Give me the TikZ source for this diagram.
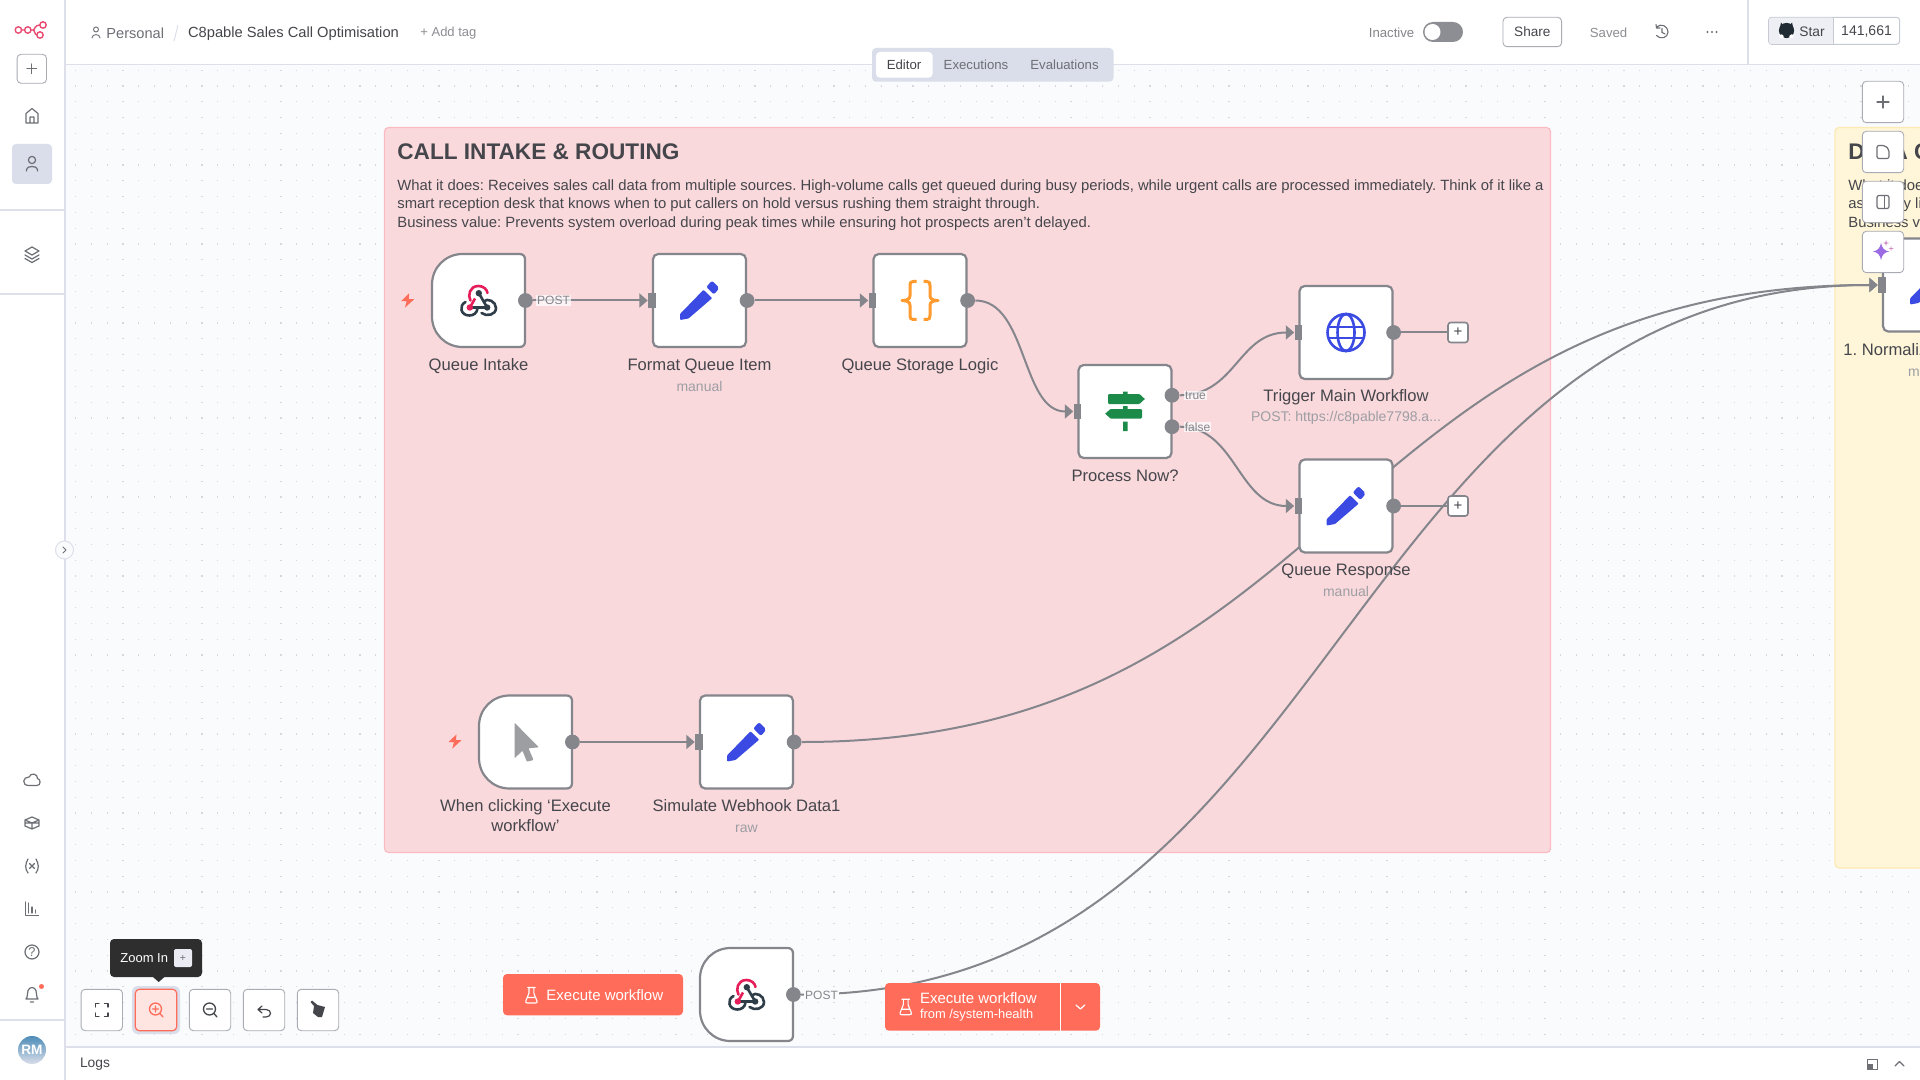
\documentclass[tikz,border=0pt]{standalone}
\usepackage{fontspec}
\setmainfont{Liberation Sans}
\usetikzlibrary{arrows.meta,calc}
\definecolor{canvas}{HTML}{FAFBFD}
\definecolor{griddot}{HTML}{D6D8DF}
\definecolor{rule}{HTML}{DDE0EA}
\definecolor{edgec}{HTML}{84868C}
\definecolor{ink}{HTML}{45464B}
\definecolor{subink}{HTML}{9C9EA3}
\definecolor{uiink}{HTML}{6D6F75}
\definecolor{btnline}{HTML}{A9ACB4}
\definecolor{coral}{HTML}{FF6D5A}
\definecolor{pinkbg}{HTML}{FAD9DD}
\definecolor{pinkln}{HTML}{FBBBC2}
\definecolor{yellbg}{HTML}{FFF5D8}
\definecolor{yellln}{HTML}{FCE9B4}
\definecolor{pencilc}{HTML}{3B4AE3}
\definecolor{greenc}{HTML}{1C8B4A}
\definecolor{orangec}{HTML}{FF9A2E}
\definecolor{hookpink}{HTML}{E51E5A}
\definecolor{hookdark}{HTML}{2F3D49}
\definecolor{logoc}{HTML}{EA4B71}
\definecolor{tabbg}{HTML}{DADEEA}
\definecolor{purplec}{HTML}{9A6BE3}
\pgfdeclarelayer{bgl}\pgfdeclarelayer{edgel}\pgfdeclarelayer{uil}
\pgfsetlayers{bgl,edgel,main,uil}
\tikzset{
  card/.style={draw=edgec,line width=1.1pt,fill=white,rounded corners=2.6pt,minimum width=46.5pt,minimum height=46.5pt,inner sep=0pt},
  ghostcard/.style={minimum width=46.5pt,minimum height=46.5pt,inner sep=0pt},
  trigborder/.style={draw=edgec,line width=1.1pt,fill=white,line join=round},
  outdot/.style={circle,fill=edgec,minimum size=7.4pt,inner sep=0pt},
  inport/.style={rectangle,fill=edgec,minimum width=3.8pt,minimum height=7.8pt,inner sep=0pt},
  wire/.style={draw=edgec,line width=1pt},
  wirearrow/.style={wire,-{Triangle[length=4.2pt,width=7pt]}},
  nodelabel/.style={font=\fontsize{8.3}{9.6}\selectfont,text=ink,align=center,inner sep=0pt},
  sublabel/.style={font=\fontsize{7}{8}\selectfont,text=subink,inner sep=0pt},
  portlabel/.style={font=\fontsize{6}{7}\selectfont,text=edgec,inner sep=.5pt,fill=white,fill opacity=.7,text opacity=1},
  plusbox/.style={draw=edgec,line width=.8pt,fill=white,rounded corners=1.4pt,minimum size=10pt,inner sep=0pt},
  uibtn/.style={draw=btnline,line width=.45pt,fill=white,rounded corners=2pt,minimum width=20.7pt,minimum height=20.7pt,inner sep=0pt},
  uiicon/.style={draw=uiink,line width=.6pt,line cap=round,line join=round,fill=none},
  stickytitle/.style={font=\fontsize{11.3}{14}\selectfont\bfseries,text=ink,anchor=west,inner sep=0pt},
  stickybody/.style={font=\fontsize{7.42}{9.25}\selectfont,text=ink,align=left,anchor=north west,inner sep=0pt},
}
\newcommand{\hookicon}[1]{\begin{scope}[shift={(#1)}]
  \draw[hookpink,line width=1.3pt,line cap=round] (-8,0) .. controls (-11,-5) and (-9,-14.5) .. (0,-14.5) .. controls (5,-14.5) and (8.5,-11) .. (9,-7.5);
  \draw[hookpink,line width=1.3pt] (-8.6,7) -- (-3.5,-2);
  \draw[hookdark,line width=1.3pt] (0.3,-7.3) -- (8.7,7) -- (-8,7);
  \draw[hookdark,line width=1.3pt,line cap=round] (-13,1.5) .. controls (-20,5) and (-18,15) .. (-9,15) .. controls (-5,15) and (-1.5,12.5) .. (-1,8);
  \draw[hookdark,line width=1.3pt,line cap=round] (3,12.5) .. controls (8,16.5) and (17.5,14.5) .. (17.5,7.5) .. controls (17.5,1) and (9,-3) .. (5,1);
  \fill[hookdark] (0.3,-7.3) circle[radius=3.2] (8.7,7) circle[radius=3.2];
  \fill[hookpink] (-8.7,7) circle[radius=3.2];
\end{scope}}
\newcommand{\penicon}[1]{\begin{scope}[shift={(#1)}]
  \fill[pencilc,rounded corners=.4pt] (-19.3,19.5) -- (-19.5,13.5) -- (4,-10.7) -- (12.6,-2.3) -- (-11,18) -- cycle;
  \fill[pencilc,rounded corners=1pt] (6.7,-13.5) -- (12.5,-19.8) -- (19.8,-12.5) -- (14.5,-6) -- cycle;
\end{scope}}
\newcommand{\bolticon}[1]{\begin{scope}[shift={(#1)}]
  \fill[coral] (1.5,-7.2) -- (-6.5,.6) -- (-1,.8) -- (-2.8,7.2) -- (6.5,-1.3) -- (1,-1.3) -- cycle;
\end{scope}}
\newcommand{\flaskicon}[1]{\begin{scope}[shift={(#1)}]
  \draw[white,line width=.55pt,line join=round,line cap=round] (-3.8,-7.5) -- (3.8,-7.5) (-2.4,-7.5) -- (-2.4,-2) -- (-5.6,6) .. controls (-6,7.5) and (-5.5,8) .. (-4,8) -- (4,8) .. controls (5.5,8) and (6,7.5) .. (5.6,6) -- (2.4,-2) -- (2.4,-7.5) (-4,2.5) -- (4,2.5);
\end{scope}}
\newcommand{\trigshape}[1]{\begin{scope}[shift={(#1)}]
  \draw[trigborder] (-16,-46.5) -- (41,-46.5) .. controls (44.5,-46.5) and (46.5,-44.5) .. (46.5,-41) -- (46.5,41) .. controls (46.5,44.5) and (44.5,46.5) .. (41,46.5) -- (-16,46.5) .. controls (-33,46.5) and (-46.5,33) .. (-46.5,16) -- (-46.5,-16) .. controls (-46.5,-33) and (-33,-46.5) .. (-16,-46.5) -- cycle;
\end{scope}}
\begin{document}
\frenchspacing
\begin{tikzpicture}[x=.5pt,y=-.5pt]
\useasboundingbox (0,0) rectangle (1920,1080);
\begin{pgfonlayer}{bgl}
  \fill[white] (0,0) rectangle (1920,1080);
  \fill[canvas] (65,65) rectangle (1920,1047);
  \foreach \j in {0,...,61}{
    \draw[griddot,line width=.6pt,dash pattern=on .6pt off 7.3pt] (75,{70.3+15.8*\j}) -- (1920,{70.3+15.8*\j});}
  \draw[pinkln,fill=pinkbg,line width=.6pt,rounded corners=2pt] (384.5,127.5) rectangle (1550.5,852.5);
  \draw[yellln,fill=yellbg,line width=.6pt,rounded corners=2pt] (1835,127.5) rectangle (1960,868);
\end{pgfonlayer}

% sticky text
\node[stickytitle] (t1) at (397,152) {CALL INTAKE \& ROUTING};
\node[stickybody] (b1) at (397,179) {What it does: Receives sales call data from multiple sources. High-volume calls get queued during busy periods, while urgent calls are processed immediately. Think of it like a\\smart reception desk that knows when to put callers on hold versus rushing them straight through.\\Business value: Prevents system overload during peak times while ensuring hot prospects aren’t delayed.};
\node[stickytitle] (t2) at (1848,152) {DATA C};
\node[stickybody] (b2) at (1848,179) {What it does\\assembly li\\Business va};

% workflow cards
\node[ghostcard] (qi) at (478.5,300.5) {};
\node[card] (fq) at (699.5,300.5) {};
\node[card] (qs) at (920,300.5) {};
\node[card] (pn) at (1125,411.5) {};
\node[card] (tm) at (1346,332.5) {};
\node[card] (qr) at (1346,506) {};
\node[ghostcard] (ck) at (525.5,742) {};
\node[card] (sw) at (746.5,742) {};
\node[ghostcard] (bh) at (746.5,994.5) {};
\node[card] (nm) at (1929.5,285) {};
\trigshape{qi.center}
\trigshape{ck.center}
\trigshape{bh.center}
% ports
\node[outdot] (qio) at (qi.east) {};
\node[outdot] (fqo) at (fq.east) {};
\node[outdot] (qso) at (qs.east) {};
\node[outdot] (pnt) at (1172,395.3) {};
\node[outdot] (pnf) at (1172,426.7) {};
\node[outdot] (tmo) at (tm.east) {};
\node[outdot] (qro) at (qr.east) {};
\node[outdot] (cko) at (ck.east) {};
\node[outdot] (swo) at (sw.east) {};
\node[outdot] (bho) at (bh.east) {};
\node[inport] (fqi) at (fq.west) {};
\node[inport] (qsi) at (qs.west) {};
\node[inport] (pni) at (pn.west) {};
\node[inport] (tmi) at (tm.west) {};
\node[inport] (qri) at (qr.west) {};
\node[inport] (swi) at (sw.west) {};
\node[inport] (nmi) at (nm.west) {};
\node[plusbox,font=\fontsize{7.5}{8}\selectfont,text=ink] (p1) at (1458,332.5) {+};
\node[plusbox,font=\fontsize{7.5}{8}\selectfont,text=ink] (p2) at (1458,506) {+};

% connectors
\begin{pgfonlayer}{edgel}
  \draw[wirearrow] (qio.east) -- (fqi.west);
  \draw[wirearrow] (fqo.east) -- (qsi.west);
  \draw[wirearrow] (qso.east) .. controls +(52,0) and +(-52,0) .. (pni.west);
  \draw[wirearrow] (pnt.east) .. controls +(56,0) and +(-56,0) .. (tmi.west);
  \draw[wirearrow] (pnf.east) .. controls +(56,0) and +(-56,0) .. (qri.west);
  \draw[wire] (tmo.east) -- (p1.west);
  \draw[wire] (qro.east) -- (p2.west);
  \draw[wirearrow] (cko.east) -- (swi.west);
  \draw[wirearrow] (swo.east) .. controls +(540,0) and +(-540,0) .. (nmi.west);
  \draw[wirearrow] (bho.east) .. controls +(540,0) and +(-540,0) .. (nmi.west);
\end{pgfonlayer}

% port labels
\node[portlabel] (l1) at (553.5,300.5) {POST};
\node[portlabel] (l2) at (1195.5,395.5) {true};
\node[portlabel] (l3) at (1197.5,427) {false};
\node[portlabel,fill=canvas,fill opacity=1] (l4) at (821.5,995) {POST};

% labels
\node[nodelabel] (qil) at (478.5,366) {Queue Intake};
\node[nodelabel] (fql) at (699.5,366) {Format Queue Item};
\node[sublabel] (fqs) at (699.5,386.7) {manual};
\node[nodelabel] (qsl) at (920,366) {Queue Storage Logic};
\node[nodelabel] (pnl) at (1125,475.5) {Process Now?};
\node[nodelabel] (tml) at (1346,397) {Trigger Main Workflow};
\node[sublabel] (tms) at (1346,417.7) {POST: https://c8pable7798.a...};
\node[nodelabel] (qrl) at (1346,571.3) {Queue Response};
\node[sublabel] (qrs) at (1346,591.7) {manual};
\node[nodelabel] (ckl) at (525.5,815.5) {When clicking ‘Execute\\workflow’};
\node[nodelabel] (swl) at (746.5,806) {Simulate Webhook Data1};
\node[sublabel] (sws) at (746.5,828.5) {raw};
\node[nodelabel,anchor=west] (nml) at (1843,349.5) {1. Normaliz};
\node[sublabel,anchor=west] (nms) at (1907.7,371) {manual};

% icons
\hookicon{qi.center}
\hookicon{bh.center}
\penicon{fq.center}
\penicon{qr.center}
\penicon{sw.center}
\penicon{nm.center}
\bolticon{407.7,300.5}
\bolticon{455,741.5}
\begin{scope}[shift={(qs.center)}]
  \draw[orangec,line width=1.5pt,line join=round] (-3.5,-19) -- (-7,-19) .. controls (-9.5,-19) and (-10,-17.5) .. (-10,-15) -- (-10,-5) .. controls (-10,-2) and (-12,0) .. (-18,0) .. controls (-12,0) and (-10,2) .. (-10,5) -- (-10,15) .. controls (-10,17.5) and (-9.5,19) .. (-7,19) -- (-3.5,19);
  \draw[orangec,line width=1.5pt,line join=round] (3.5,-19) -- (7,-19) .. controls (9.5,-19) and (10,-17.5) .. (10,-15) -- (10,-5) .. controls (10,-2) and (12,0) .. (18,0) .. controls (12,0) and (10,2) .. (10,5) -- (10,15) .. controls (10,17.5) and (9.5,19) .. (7,19) -- (3.5,19);
\end{scope}
\begin{scope}[shift={(pn.center)}]
  \fill[greenc,rounded corners=.6pt] (-17,-17.5) rectangle (15,-7.5);
  \fill[greenc] (14.5,-17.5) -- (19.8,-12.5) -- (14.5,-7.5) -- cycle;
  \fill[greenc,rounded corners=.6pt] (-15,-2.5) rectangle (17,7);
  \fill[greenc] (-14.5,-2.5) -- (-19.8,2.2) -- (-14.5,7) -- cycle;
  \fill[greenc] (-2,-20) rectangle (2.6,-17.5) (-2,-5.5) rectangle (2.6,-2.5) (-2,10) rectangle (2.6,19.5);
\end{scope}
\begin{scope}[shift={(tm.center)}]
  \draw[pencilc,line width=1.3pt] (0,0) circle[radius=18.5];
  \draw[pencilc,line width=1.3pt] (0,0) circle[x radius=8.5,y radius=18.5];
  \draw[pencilc,line width=1.3pt] (-17,-5.5) -- (17,-5.5) (-17,5.5) -- (17,5.5);
\end{scope}
\begin{scope}[shift={(ck.center)}]
  \fill[subink!85!black!80,rounded corners=.4pt] (-11,-19.3) -- (13.4,5.3) -- (3,6.3) -- (8,18) -- (1.4,19.7) -- (-3,8.7) -- (-11,16.3) -- cycle;
\end{scope}

% ---- UI chrome ----
\begin{pgfonlayer}{uil}
  % bars
  \draw[rule,line width=.6pt] (65,0) -- (65,1080);
  \draw[rule,line width=.6pt] (65,64.5) -- (1920,64.5);
  \draw[rule,line width=.6pt] (1748,0) -- (1748,64.5);
  \draw[rule,line width=.6pt] (0,210) -- (65,210) (0,294) -- (65,294) (0,1020) -- (65,1020);
  \fill[white] (65.5,1047.5) rectangle (1920,1080);
  \draw[rule,line width=.6pt] (65,1047) -- (1920,1047);
  \node[font=\fontsize{6.9}{8}\selectfont,text=ink,inner sep=0pt] (logs) at (95,1064.5) {Logs};
  \draw[uiicon,line width=.5pt] (1867,1059) rectangle (1877,1069);
  \fill[uiink] (1867,1064) rectangle (1873,1069);
  \draw[uiicon] (1895,1066) -- (1899.5,1061.5) -- (1904,1066);
  % collapse toggle
  \draw[rule,fill=canvas,line width=.5pt] (64.5,550) circle[radius=9];
  \draw[uiicon,line width=.4pt] (63,547) -- (66,550) -- (63,553);
  % logo
  \draw[logoc,line width=.7pt,fill=none] (18.4,30) circle[radius=3.2] (27.8,30) circle[radius=3.2] (43,25) circle[radius=3.2] (40,35) circle[radius=3.2];
  \draw[logoc,line width=.7pt] (21.6,30) -- (24.6,30) (31,30) -- (33,30) .. controls (35,30) and (34.5,25) .. (39.8,25) (33,30) .. controls (35,30) and (34.5,35) .. (36.8,35);
  % sidebar
  \node[uibtn,minimum width=14.7pt,minimum height=14.5pt] (newb) at (31.8,68.8) {};
  \draw[uiicon] (27,68.8) -- (36.6,68.8) (31.8,64) -- (31.8,73.6);
  \fill[tabbg,rounded corners=2pt] (12,144) rectangle (52,184);
  \draw[uiicon] (26,123) -- (26,113.5) -- (32,108.5) -- (38,113.5) -- (38,123) -- cycle (30,123) -- (30,117) -- (34,117) -- (34,123);
  \draw[uiicon] (32,160) circle[radius=3.6] (26.5,171) -- (26.5,169.5) .. controls (26.5,165.5) and (37.5,165.5) .. (37.5,169.5) -- (37.5,171);
  \draw[uiicon] (32,247) -- (25,251) -- (32,255) -- (39,251) -- cycle (25,255) -- (32,259) -- (39,255) (25,258.5) -- (32,262.5) -- (39,258.5);
  \draw[uiicon] (29,785.5) .. controls (21,785.5) and (23,776.5) .. (29,777) .. controls (31,772) and (38,774) .. (37.5,778.5) .. controls (41,779) and (41,785.5) .. (37,785.5) -- cycle;
  \draw[uiicon] (25,820) -- (32,817) -- (39,820) -- (39,826) -- (32,829) -- (25,826) -- cycle (25,820) -- (32,823) -- (39,820) (32,823) -- (32,829) (25,823) -- (39,823);
  \draw[uiicon] (28,859) .. controls (25,864) and (25,869) .. (28,873) (36,859) .. controls (39,864) and (39,869) .. (36,873) (29.5,863.5) -- (34.5,868.5) (34.5,863.5) -- (29.5,868.5);
  \draw[uiicon] (25.5,902) -- (25.5,915.5) -- (38.5,915.5) (28.5,903) -- (28.5,913) (32,907) -- (32,913) (35.5,910) -- (35.5,913);
  \draw[uiicon] (32,952) circle[radius=7];
  \node[font=\fontsize{6.4}{7}\selectfont,text=uiink,inner sep=0pt] (qm) at (32,952) {?};
  \draw[uiicon] (26,999) .. controls (28,997) and (27,993) .. (28,990.5) .. controls (29.5,986.5) and (34.5,986.5) .. (36,990.5) .. controls (37,993) and (36,997) .. (38,999) -- cycle (30.5,1002) -- (33.5,1002);
  \fill[coral] (41.5,986.5) circle[radius=2.5];
  \shade[top color=blue!40!cyan!60!black!70,middle color=red!35,bottom color=tabbg] (32,1050) circle[radius=14];
  \node[font=\fontsize{6.8}{8}\selectfont\bfseries,text=white,inner sep=0pt] (rm) at (32,1050) {RM};
  % header left
  \draw[uiicon,line width=.45pt] (96,29.5) circle[radius=2.5] (92,38) .. controls (92,33.5) and (100,33.5) .. (100,38);
  \node[font=\fontsize{7.3}{8}\selectfont,text=uiink,anchor=west,inner sep=0pt] (pers) at (106,33.5) {Personal};
  \draw[rule,line width=.5pt] (178,25) -- (174,41);
  \node[font=\fontsize{7.35}{8}\selectfont,text=ink,anchor=west,inner sep=0pt] (title) at (187.7,33.5) {C8pable Sales Call Optimisation};
  \node[font=\fontsize{6.5}{8}\selectfont,text=subink!90!black,anchor=west,inner sep=0pt] (tag) at (420,33) {+ Add tag};
  % tabs
  \fill[tabbg,rounded corners=2pt] (872,48) rectangle (1113.5,81.7);
  \fill[white,rounded corners=2pt] (876,52) rectangle (932.6,77.7);
  \node[font=\fontsize{6.6}{8}\selectfont,text=ink,inner sep=0pt] (tab1) at (904,64.5) {Editor};
  \node[font=\fontsize{6.6}{8}\selectfont,text=uiink,inner sep=0pt] (tab2) at (976,64.5) {Executions};
  \node[font=\fontsize{6.6}{8}\selectfont,text=uiink,inner sep=0pt] (tab3) at (1064.5,64.5) {Evaluations};
  % header right
  \node[font=\fontsize{6.6}{8}\selectfont,text=subink!85!black,anchor=east,inner sep=0pt] (inact) at (1414.7,33) {Inactive};
  \fill[subink!90!black,rounded corners=5pt] (1423,22) rectangle (1463,42);
  \fill[white] (1432.5,32) circle[radius=8];
  \node[uibtn,minimum width=29.3pt,minimum height=14.7pt,font=\fontsize{6.8}{8}\selectfont,text=ink] (share) at (1532.3,32) {Share};
  \node[font=\fontsize{6.6}{8}\selectfont,text=subink!90!black,inner sep=0pt] (saved) at (1608.6,32.5) {Saved};
  \draw[uiicon,line width=.55pt] (1656.5,27) .. controls (1661,23) and (1668,26) .. (1668,32) .. controls (1668,38) and (1660,40) .. (1656.5,35.5) (1656,24.5) -- (1656.5,28) -- (1660,28) (1662,28.5) -- (1662,32.5) -- (1665,34);
  \fill[uiink] (1707.5,32) circle[radius=1.1] (1712,32) circle[radius=1.1] (1716.5,32) circle[radius=1.1];
  \draw[rule!90!black,fill=white,line width=.5pt,rounded corners=1.5pt] (1768.6,17.3) rectangle (1899.6,44.3);
  \fill[rule!50!white,rounded corners=1.2pt] (1769,17.7) rectangle (1833.5,43.9);
  \draw[rule!90!black,line width=.5pt] (1833.5,17.3) -- (1833.5,44.3);
  \fill[hookdark!70!black] (1786.5,30.5) circle[radius=7.6];
  \fill[hookdark!70!black] (1781,22.5) -- (1784,26) -- (1780,27) -- cycle (1792,22.5) -- (1789,26) -- (1793,27) -- cycle;
  \fill[white] (1779,35) .. controls (1781,34) and (1783,34) .. (1783.6,36) -- (1783.6,38.5) -- (1780,38) -- cycle (1789.4,36) .. controls (1790,34) and (1792,34) .. (1794,35) -- (1793,38) -- (1789.4,38.5) -- cycle;
  \node[font=\fontsize{6.9}{8}\selectfont,text=ink,anchor=west,inner sep=0pt] (star) at (1799,31.5) {Star};
  \node[font=\fontsize{7}{8}\selectfont,text=ink,inner sep=0pt] (count) at (1866.5,32) {141,661};
  % right tool buttons
  \node[uibtn] (r1) at (1883,102) {};
  \node[uibtn] (r2) at (1883,152) {};
  \node[uibtn] (r3) at (1883,202) {};
  \node[uibtn] (r4) at (1883,252) {};
  \draw[uiicon] (1877,102) -- (1889,102) (1883,96) -- (1883,108);
  \draw[uiicon,rounded corners=1pt] (1877,145.5) -- (1885,145.5) -- (1889,149.5) -- (1889,158.5) -- (1877,158.5) -- cycle;
  \draw[uiicon,rounded corners=1pt] (1877,195.5) rectangle (1889,208.5);
  \draw[uiicon] (1884.5,195.5) -- (1884.5,208.5);
  \fill[purplec] (1881,243) .. controls (1882,248) and (1884,250.5) .. (1889,251.5) .. controls (1884,252.5) and (1882,255) .. (1881,260) .. controls (1880,255) and (1878,252.5) .. (1873,251.5) .. controls (1878,250.5) and (1880,248) .. (1881,243) -- cycle;
  \fill[purplec!70!red!70] (1886,240) -- (1886.6,242.4) -- (1889,243) -- (1886.6,243.6) -- (1886,246) -- (1885.4,243.6) -- (1883,243) -- (1885.4,242.4) -- cycle;
  \fill[purplec!70!red!70] (1891,246) -- (1891.5,248) -- (1893.5,248.5) -- (1891.5,249) -- (1891,251) -- (1890.5,249) -- (1888.5,248.5) -- (1890.5,248) -- cycle;
  % bottom tools
  \node[uibtn] (b1a) at (101.8,1010) {};
  \fill[tabbg,rounded corners=3pt] (132,986) rectangle (180,1034);
  \node[uibtn,draw=coral,fill=coral!18!white,line width=.6pt] (b2a) at (156,1010) {};
  \node[uibtn] (b3a) at (210,1010) {};
  \node[uibtn] (b4a) at (264,1010) {};
  \node[uibtn] (b5a) at (318,1010) {};
  \draw[uiicon,draw=ink,line width=.7pt] (95.5,1007) -- (95.5,1003.5) -- (99,1003.5) (104.5,1003.5) -- (108,1003.5) -- (108,1007) (108,1013) -- (108,1016.5) -- (104.5,1016.5) (99,1016.5) -- (95.5,1016.5) -- (95.5,1013);
  \draw[uiicon,draw=coral,line width=.65pt] (155.5,1009) circle[radius=6] (160,1013.5) -- (163,1017) (152.5,1009) -- (158.5,1009) (155.5,1006) -- (155.5,1012);
  \draw[uiicon,draw=ink,line width=.65pt] (209.5,1009) circle[radius=6] (214,1013.5) -- (217,1017) (206.5,1009) -- (212.5,1009);
  \draw[uiicon,draw=ink,line width=.6pt] (262,1006) -- (258,1009.5) -- (262,1013) (258,1009.5) -- (266,1009.5) .. controls (272,1009.5) and (272,1017) .. (266,1017) -- (263,1017);
  \fill[ink] (310.5,1002) -- (312,1000.5) -- (317.5,1005) -- (325,1007) -- (322,1017) -- (318,1017) -- (313,1013) -- (314,1006) -- cycle;
  % tooltip
  \fill[black!82,rounded corners=2pt] (110,939) rectangle (202,977);
  \fill[black!82] (153,977) -- (158.7,982) -- (164.4,977) -- cycle;
  \node[font=\fontsize{6.5}{8}\selectfont,text=white,anchor=west,inner sep=0pt] (tip) at (120,958) {Zoom In};
  \fill[rule!60!white,rounded corners=1pt] (174,949) rectangle (192,967);
  \node[font=\fontsize{5.2}{6}\selectfont,text=uiink,inner sep=0pt] (tipk) at (183,958.5) {+};
  % execute buttons
  \fill[coral,rounded corners=2pt] (503,974) rectangle (683,1015.3);
  \flaskicon{531.4,995}
  \node[font=\fontsize{7.5}{8}\selectfont,text=white,anchor=west,inner sep=0pt] (ex1) at (546,995) {Execute workflow};
  \fill[coral,rounded corners=2pt] (885,983) rectangle (1100,1030.7);
  \draw[white,line width=.4pt] (1060,983) -- (1060,1030.7);
  \flaskicon{905.7,1006.7}
  \node[font=\fontsize{7.5}{8}\selectfont,text=white,anchor=west,inner sep=0pt] (ex2) at (919.6,998.3) {Execute workflow};
  \node[font=\fontsize{6.45}{7}\selectfont,text=white,anchor=west,inner sep=0pt] (ex3) at (919.6,1015) {from /system-health};
  \draw[white,line width=.6pt,line cap=round,line join=round] (1076,1005) -- (1080.4,1009) -- (1084.8,1005);
\end{pgfonlayer}
\end{tikzpicture}
\end{document}
